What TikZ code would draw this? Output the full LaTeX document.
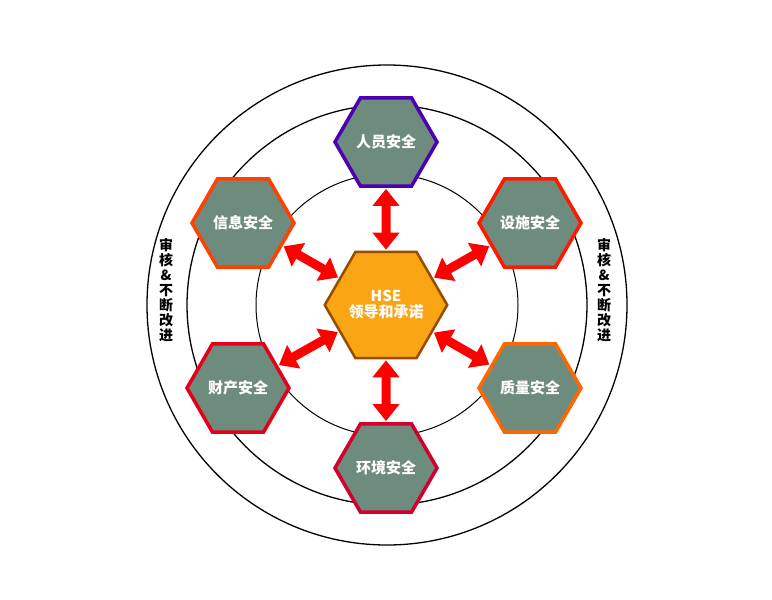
\documentclass[tikz,border=0pt]{standalone}
\usepackage{fontspec}
\setmainfont{Noto Sans CJK SC}
\usetikzlibrary{shapes.geometric,arrows.meta}
\begin{document}
\begin{tikzpicture}[x=1pt,y=-1pt,
  hexa/.style={regular polygon,regular polygon sides=6,minimum size=102pt,inner sep=0pt,
    fill=hexgreen,line width=3.5pt,text=white,font=\bfseries\fontsize{15}{18}\selectfont},
  biarrow/.style={draw=red,line width=9pt,{Triangle[width=26pt,length=17pt]}-{Triangle[width=26pt,length=17pt]},shorten <=1pt,shorten >=1pt},
  ring/.style={draw=black,line width=1.3pt},
  side/.style={font=\bfseries\fontsize{14}{15}\selectfont,align=center}]
\definecolor{hexgreen}{RGB}{110,140,125}
\definecolor{hexorange}{RGB}{250,165,20}
\useasboundingbox (0,0) rectangle (772,600);
\fill[white] (0,0) rectangle (772,600);
\draw[ring] (387,305) circle (240);
\draw[ring] (387,305) circle (200);
\draw[ring,line width=1pt] (387,305) circle (131);
\node[hexa,fill=hexorange,draw=orange!60!black,line width=2.5pt] (c) at (386,305) {\shortstack{HSE\\领导和承诺}};
\node[hexa,draw=blue!60!purple] (a) at (386,142) {人员安全};
\node[hexa,draw=red!80!orange] (b) at (530,223) {设施安全};
\node[hexa,draw=orange!50!red] (f) at (243,223) {信息安全};
\node[hexa,draw=red!60!purple] (e) at (238,388) {财产安全};
\node[hexa,draw=orange!80!red] (d) at (530,388) {质量安全};
\node[hexa,draw=purple!70!red] (g) at (386,468) {环境安全};
\foreach \n in {a,b,d,e,f,g} \draw[biarrow] (c) -- (\n);
\node[side] (l) at (166,290) {审\\核\\\&\\不\\断\\改\\进};
\node[side] (r) at (604,290) {审\\核\\\&\\不\\断\\改\\进};
\end{tikzpicture}
\end{document}
